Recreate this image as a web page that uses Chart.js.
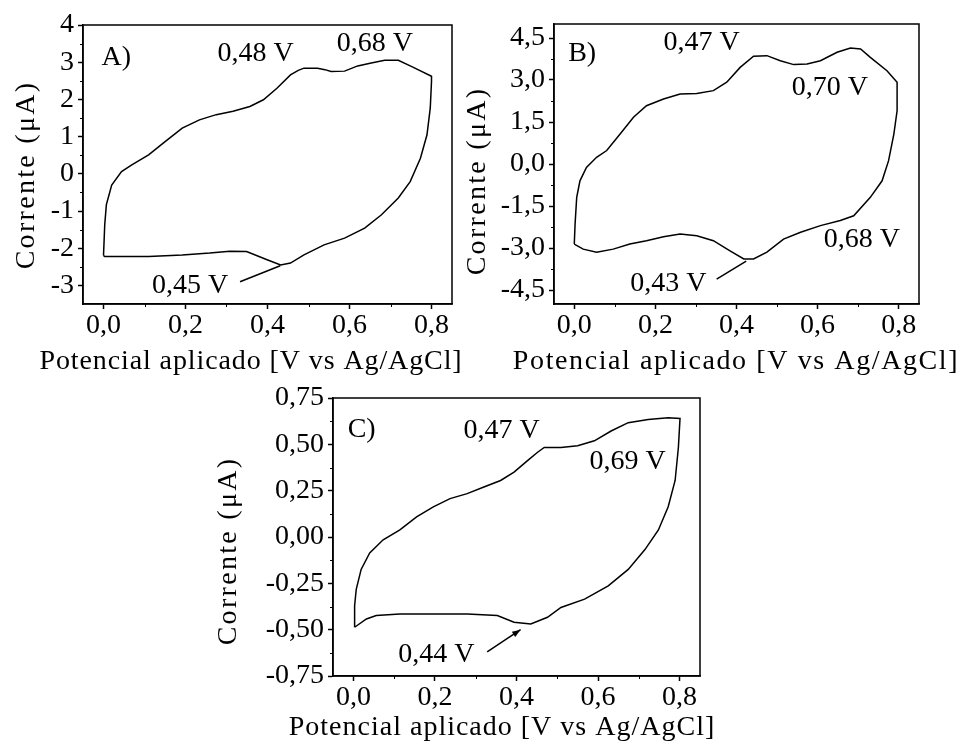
<!DOCTYPE html>
<html>
<head>
<meta charset="utf-8">
<script src="https://cdn.jsdelivr.net/npm/chart.js@4.4.1/dist/chart.umd.min.js"></script>
<style>
  html, body { margin: 0; padding: 0; background: #fff; }
  body { width: 963px; height: 747px; position: relative; overflow: hidden; }
  canvas { position: absolute; }
</style>
</head>
<body>
<canvas id="graficoA" width="480" height="380" style="left:0;top:0"></canvas>
<canvas id="graficoB" width="508" height="380" style="left:455px;top:0"></canvas>
<canvas id="graficoC" width="560" height="367" style="left:200px;top:380px"></canvas>
<script>
// voltamogramas ciclicos - potencial (V) x corrente (uA)
var potA = [0.000, 0.003, 0.007, 0.020, 0.044, 0.069, 0.110, 0.151, 0.192, 0.234, 0.275, 0.316, 0.357, 0.390, 0.423, 0.456, 0.475, 0.489, 0.522, 0.540, 0.555, 0.588, 0.620, 0.653, 0.686, 0.719, 0.752, 0.800,
            0.800, 0.797, 0.789, 0.773, 0.748, 0.719, 0.678, 0.637, 0.588, 0.538, 0.489, 0.456, 0.432, 0.399, 0.349, 0.308, 0.259, 0.192, 0.110, 0.028, 0.003, 0.000];
var curA = [-2.20, -1.37, -0.83, -0.30, 0.06, 0.24, 0.51, 0.87, 1.23, 1.45, 1.59, 1.68, 1.81, 1.99, 2.30, 2.66, 2.78, 2.84, 2.84, 2.80, 2.75, 2.76, 2.90, 2.98, 3.05, 3.05, 2.88, 2.62,
            2.48, 1.77, 1.05, 0.42, -0.21, -0.65, -1.10, -1.46, -1.73, -1.91, -2.18, -2.40, -2.45, -2.31, -2.09, -2.08, -2.13, -2.18, -2.22, -2.22, -2.22, -2.20];

var potB = [0.000, 0.002, 0.006, 0.014, 0.030, 0.055, 0.080, 0.113, 0.146, 0.178, 0.220, 0.261, 0.302, 0.343, 0.376, 0.409, 0.442, 0.475, 0.508, 0.541, 0.574, 0.607, 0.648, 0.681, 0.706, 0.730, 0.771, 0.796,
            0.796, 0.788, 0.775, 0.759, 0.730, 0.689, 0.656, 0.607, 0.558, 0.516, 0.475, 0.442, 0.418, 0.384, 0.343, 0.302, 0.261, 0.220, 0.178, 0.137, 0.096, 0.055, 0.022, 0.000];
var curB = [-2.86, -2.14, -1.19, -0.60, -0.12, 0.24, 0.48, 1.07, 1.67, 2.08, 2.32, 2.50, 2.52, 2.62, 2.92, 3.45, 3.85, 3.87, 3.69, 3.55, 3.57, 3.69, 3.99, 4.14, 4.11, 3.81, 3.33, 2.92,
            1.90, 1.07, 0.12, -0.60, -1.19, -1.85, -2.02, -2.20, -2.44, -2.68, -3.15, -3.39, -3.39, -3.10, -2.74, -2.56, -2.50, -2.60, -2.74, -2.86, -3.04, -3.15, -3.04, -2.86];

var potC = [0.003, 0.003, 0.007, 0.019, 0.040, 0.073, 0.114, 0.155, 0.196, 0.237, 0.279, 0.320, 0.361, 0.394, 0.427, 0.451, 0.468, 0.509, 0.550, 0.591, 0.632, 0.674, 0.723, 0.772, 0.801,
            0.797, 0.789, 0.772, 0.748, 0.715, 0.674, 0.625, 0.567, 0.509, 0.476, 0.435, 0.394, 0.353, 0.279, 0.196, 0.114, 0.056, 0.032, 0.003];
var curC = [-0.487, -0.371, -0.282, -0.175, -0.086, -0.015, 0.038, 0.109, 0.163, 0.207, 0.234, 0.270, 0.305, 0.350, 0.412, 0.456, 0.483, 0.483, 0.492, 0.519, 0.572, 0.617, 0.634, 0.643, 0.640,
            0.483, 0.305, 0.163, 0.038, -0.068, -0.175, -0.264, -0.335, -0.380, -0.433, -0.469, -0.460, -0.424, -0.415, -0.415, -0.415, -0.424, -0.442, -0.487];

// ticks
var xTicks = [0, 0.2, 0.4, 0.6, 0.8];
var xMinor = [0.1, 0.3, 0.5, 0.7];
var yTicksA = [-3, -2, -1, 0, 1, 2, 3, 4];
var yMinorA = [-2.5, -1.5, -0.5, 0.5, 1.5, 2.5, 3.5];
var yTicksB = [-4.5, -3, -1.5, 0, 1.5, 3, 4.5];
var yMinorB = [-3.75, -2.25, -0.75, 0.75, 2.25, 3.75];
var yTicksC = [-0.75, -0.5, -0.25, 0, 0.25, 0.5, 0.75];
var yMinorC = [-0.625, -0.375, -0.125, 0.125, 0.375, 0.625];

var tituloX = 'Potencial aplicado [V vs Ag/AgCl]';
var tituloY = 'Corrente (\u03bcA)';
var fonte = 'Liberation Serif';

function virgula(v, d) {
    return v.toFixed(d).replace('.', ',');
}

// moldura, ticks menores, titulos, rotulos dos picos e setas
var extras = {};
var moldura = {
    id: 'moldura',
    afterDraw: function(chart) {
        var e = extras[chart.canvas.id];
        var ctx = chart.ctx, a = chart.chartArea;
        var sx = chart.scales.x, sy = chart.scales.y;
        ctx.save();
        ctx.strokeStyle = '#000';
        ctx.lineWidth = 1.5;
        ctx.strokeRect(a.left, a.top, a.right - a.left, a.bottom - a.top);

        ctx.lineWidth = 1;
        ctx.beginPath();
        e.xMinor.forEach(function(v) {
            var p = Math.round(sx.getPixelForValue(v)) + 0.5;
            ctx.moveTo(p, a.bottom); ctx.lineTo(p, a.bottom + 3);
        });
        e.yMinor.forEach(function(v) {
            var p = Math.round(sy.getPixelForValue(v)) + 0.5;
            ctx.moveTo(a.left, p); ctx.lineTo(a.left - 3, p);
        });
        ctx.stroke();

        ctx.fillStyle = '#000';
        ctx.font = '28px "' + fonte + '"';
        ctx.textBaseline = 'middle';

        // titulos dos eixos, mais espacados que o resto do texto
        ctx.textAlign = 'center';
        ctx.letterSpacing = e.tx.esp + 'px';
        ctx.fillText(tituloX, e.tx.x, e.tx.y);
        ctx.save();
        ctx.translate(e.ty.x, e.ty.y);
        ctx.rotate(-Math.PI / 2);
        ctx.letterSpacing = e.ty.esp + 'px';
        ctx.fillText(tituloY, 0, 0);
        ctx.restore();
        ctx.letterSpacing = '0px';

        ctx.textAlign = 'left';
        e.notas.forEach(function(n) {
            ctx.fillText(n.t, sx.getPixelForValue(n.x), sy.getPixelForValue(n.y));
        });

        var s = e.seta;
        var x1 = sx.getPixelForValue(s.x1), y1 = sy.getPixelForValue(s.y1);
        var x2 = sx.getPixelForValue(s.x2), y2 = sy.getPixelForValue(s.y2);
        ctx.lineWidth = 1.5;
        ctx.beginPath();
        ctx.moveTo(x1, y1); ctx.lineTo(x2, y2);
        ctx.stroke();
        if (s.ponta) {
            var ang = Math.atan2(y2 - y1, x2 - x1);
            ctx.beginPath();
            ctx.moveTo(x2, y2);
            ctx.lineTo(x2 - 9 * Math.cos(ang - 0.35), y2 - 9 * Math.sin(ang - 0.35));
            ctx.lineTo(x2 - 9 * Math.cos(ang + 0.35), y2 - 9 * Math.sin(ang + 0.35));
            ctx.closePath();
            ctx.fill();
        }
        ctx.restore();
    }
};

function grafico(id, pot, cur, yTicks, yDec, yMin, yMax, cfg) {
    extras[id] = cfg;
    return new Chart(document.getElementById(id), {
        type: 'scatter',
        data: {
            datasets: [{
                data: pot.map(function(x, i) { return {x: x, y: cur[i]}; }),
                showLine: true,
                borderColor: '#000',
                borderWidth: 1.5,
                pointRadius: 0,
                fill: false,
                tension: 0
            }]
        },
        options: {
            responsive: false,
            animation: false,
            layout: { padding: cfg.pad },
            plugins: { legend: { display: false }, tooltip: { enabled: false } },
            scales: {
                x: {
                    type: 'linear', min: -0.05, max: 0.85,
                    afterBuildTicks: function(s) { s.ticks = xTicks.map(function(v) { return {value: v}; }); },
                    afterFit: function(s) { s.height = cfg.xH; },
                    ticks: {
                        color: '#000', padding: 3, maxRotation: 0, autoSkip: false,
                        font: { family: fonte, size: 28, lineHeight: 1 },
                        callback: function(v) { return virgula(v, 1); }
                    },
                    grid: { drawOnChartArea: false, drawTicks: true, tickLength: 5, tickColor: '#000', tickWidth: 1.5 },
                    border: { color: '#000', width: 1.5 },
                    title: { display: false }
                },
                y: {
                    type: 'linear', min: yMin, max: yMax,
                    afterBuildTicks: function(s) { s.ticks = yTicks.map(function(v) { return {value: v}; }); },
                    afterFit: function(s) { s.width = cfg.yW; },
                    ticks: {
                        color: '#000', padding: 4,
                        font: { family: fonte, size: 28, lineHeight: 1 },
                        callback: function(v) { return virgula(v, yDec); }
                    },
                    grid: { drawOnChartArea: false, drawTicks: true, tickLength: 5, tickColor: '#000', tickWidth: 1.5 },
                    border: { color: '#000', width: 1.5 },
                    title: { display: false }
                }
            }
        },
        plugins: [moldura]
    });
}

grafico('graficoA', potA, curA, yTicksA, 0, -3.5, 4, {
    pad: { left: 0, top: 25, right: 28, bottom: 0 }, yW: 83, xH: 76,
    tx: { x: 251, y: 362, esp: 0.9 }, ty: { x: 27, y: 175, esp: 2.3 },
    xMinor: xMinor, yMinor: yMinorA,
    notas: [
        { t: 'A)', x: -0.005, y: 3.12 },
        { t: '0,48 V', x: 0.278, y: 3.23 },
        { t: '0,68 V', x: 0.569, y: 3.49 },
        { t: '0,45 V', x: 0.118, y: -3.01 }
    ],
    seta: { x1: 0.333, y1: -2.90, x2: 0.431, y2: -2.47, ponta: false }
});

grafico('graficoB', potB, curB, yTicksB, 1, -5, 5, {
    pad: { left: 0, top: 24, right: 44, bottom: 0 }, yW: 99, xH: 76,
    tx: { x: 281, y: 362, esp: 1.6 }, ty: { x: 23, y: 181, esp: 2.3 },
    xMinor: xMinor, yMinor: yMinorB,
    notas: [
        { t: 'B)', x: -0.015, y: 3.93 },
        { t: '0,47 V', x: 0.22, y: 4.32 },
        { t: '0,70 V', x: 0.536, y: 2.71 },
        { t: '0,68 V', x: 0.615, y: -2.71 },
        { t: '0,43 V', x: 0.138, y: -4.29 }
    ],
    seta: { x1: 0.351, y1: -4.11, x2: 0.424, y2: -3.47, ponta: false }
});

grafico('graficoC', potC, curC, yTicksC, 2, -0.75, 0.75, {
    pad: { left: 0, top: 15, right: 60, bottom: 0 }, yW: 133, xH: 71,
    tx: { x: 302, y: 348, esp: 1 }, ty: { x: 29, y: 171, esp: 2.3 },
    xMinor: xMinor, yMinor: yMinorC,
    notas: [
        { t: 'C)', x: -0.014, y: 0.579 },
        { t: '0,47 V', x: 0.27, y: 0.574 },
        { t: '0,69 V', x: 0.579, y: 0.408 },
        { t: '0,44 V', x: 0.11, y: -0.633 }
    ],
    seta: { x1: 0.328, y1: -0.62, x2: 0.41, y2: -0.50, ponta: true }
});
</script>
</body>
</html>
